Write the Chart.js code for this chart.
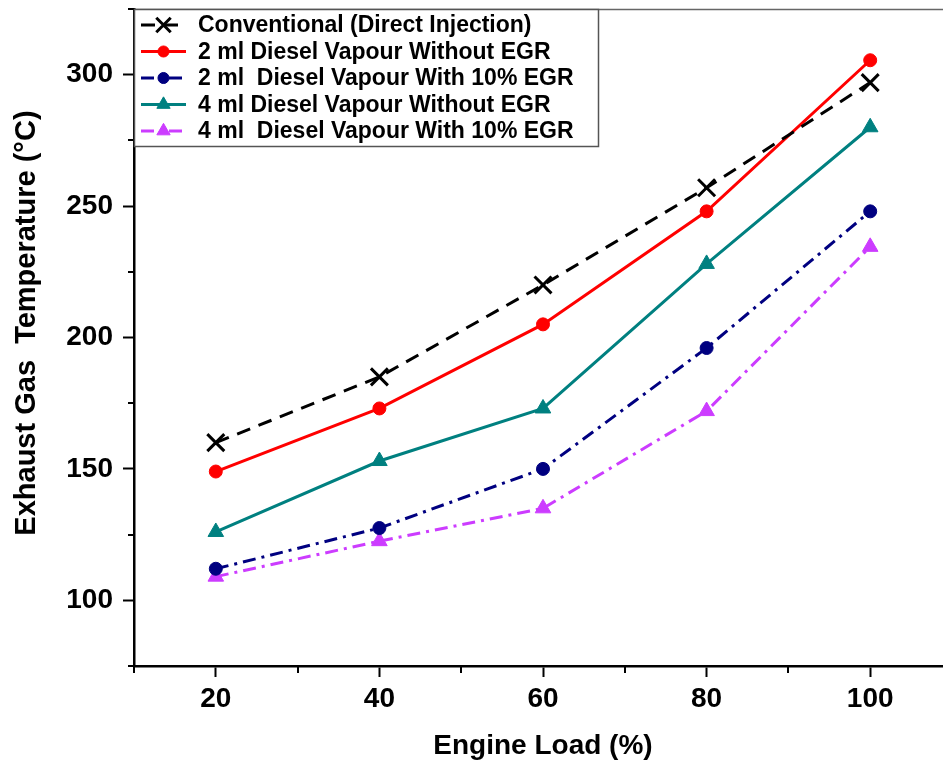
<!DOCTYPE html>
<html>
<head>
<meta charset="utf-8">
<script src="https://cdn.jsdelivr.net/npm/chart.js@4/dist/chart.umd.min.js"></script>
<style>
  html, body { margin: 0; padding: 0; background: #fff; overflow: hidden; width: 943px; height: 761px; }
  canvas { display: block; }
</style>
</head>
<body>
<canvas id="egt" width="960" height="761" style="width:960px;height:761px"></canvas>
<script>
// Engine load (%) and exhaust gas temperature (°C) for each fuelling mode
const engineLoad   = [20, 40, 60, 80, 100];
const conventional = [160, 185, 220, 257, 297];
const dv2NoEgr     = [149, 173, 205, 248, 305.5];
const dv2Egr10     = [112, 127.5, 150, 196, 248];
const dv4NoEgr     = [126, 153, 173, 228, 280];
const dv4Egr10     = [109, 122.5, 135, 172, 234.5];

const seriesNames = [
  'Conventional (Direct Injection)',
  '2 ml Diesel Vapour Without EGR',
  '2 ml  Diesel Vapour With 10% EGR',
  '4 ml Diesel Vapour Without EGR',
  '4 ml  Diesel Vapour With 10% EGR'
];

const yAxisTitle = 'Exhaust Gas  Temperature (°C)';
const xAxisTitle = 'Engine Load (%)';

const yMinorTicks = [75, 125, 175, 225, 275, 325];
const xMinorTicks = [10, 30, 50, 70, 90, 110];

const FONT = '"Liberation Sans", Arial, Helvetica, sans-serif';

const pts = (vals) => engineLoad.map((x, i) => ({ x, y: vals[i] }));

function series(label, vals, color, dash, style, radius, pbw) {
  return {
    label,
    data: pts(vals),
    borderColor: color,
    backgroundColor: color,
    borderWidth: 3,
    borderDash: dash,
    pointStyle: style,
    pointRadius: radius,
    pointHoverRadius: radius,
    pointBorderWidth: pbw,
    pointBackgroundColor: color,
    pointBorderColor: color,
    tension: 0,
    fill: false
  };
}

const datasets = [
  series(seriesNames[0], conventional, '#000000', [14, 9], 'crossRot', 12, 3),
  series(seriesNames[1], dv2NoEgr, '#ff0000', [], 'circle', 6.5, 1),
  series(seriesNames[2], dv2Egr10, '#000080', [13, 6, 3, 6], 'circle', 6.5, 1),
  series(seriesNames[3], dv4NoEgr, '#008080', [], 'triangle', 9, 1),
  series(seriesNames[4], dv4Egr10, '#cc3cff', [13, 6, 3, 6], 'triangle', 9, 1)
];

// Short minor tick marks, plot frame top line, y title and the boxed legend
const decorations = {
  id: 'decorations',
  afterDraw(chart) {
    const { ctx, chartArea, scales } = chart;
    const xs = scales.x, ys = scales.y;
    ctx.save();
    ctx.strokeStyle = '#000';
    ctx.lineWidth = 2;
    ctx.setLineDash([]);
    ctx.beginPath();
    yMinorTicks.forEach(v => {
      const py = Math.round(ys.getPixelForValue(v));
      ctx.moveTo(chartArea.left - 6, py);
      ctx.lineTo(chartArea.left, py);
    });
    xMinorTicks.forEach(v => {
      const px = Math.round(xs.getPixelForValue(v));
      ctx.moveTo(px, chartArea.bottom);
      ctx.lineTo(px, chartArea.bottom + 7);
    });
    ctx.stroke();

    // thin top frame
    ctx.strokeStyle = '#666';
    ctx.lineWidth = 1.5;
    ctx.beginPath();
    ctx.moveTo(chartArea.left, chartArea.top + 0.5);
    ctx.lineTo(chartArea.right, chartArea.top + 0.5);
    ctx.stroke();

    // rotated y-axis title
    ctx.save();
    ctx.translate(27, ys.getPixelForValue(205.5));
    ctx.rotate(-Math.PI / 2);
    ctx.fillStyle = '#000';
    ctx.font = 'bold 29px ' + FONT;
    ctx.textAlign = 'center';
    ctx.textBaseline = 'middle';
    ctx.fillText(yAxisTitle, 0, 0);
    ctx.restore();

    // legend
    const bx = chartArea.left, by = chartArea.top, bw = 464, bh = 137;
    ctx.fillStyle = '#fff';
    ctx.fillRect(bx + 1, by + 1, bw - 1, bh - 1);
    ctx.strokeStyle = '#555';
    ctx.lineWidth = 1.5;
    ctx.strokeRect(bx + 0.5, by + 0.5, bw, bh);

    chart.data.datasets.forEach((ds, i) => {
      const cy = by + 16 + i * 26.5;
      ctx.setLineDash(ds.borderDash);
      ctx.strokeStyle = ds.borderColor;
      ctx.lineWidth = ds.borderWidth;
      ctx.beginPath();
      ctx.moveTo(bx + 7, cy);
      ctx.lineTo(bx + 52, cy);
      ctx.stroke();
      ctx.setLineDash([]);
      ctx.fillStyle = ds.pointBackgroundColor;
      ctx.strokeStyle = ds.pointBorderColor;
      ctx.lineWidth = ds.pointBorderWidth;
      Chart.helpers.drawPoint(ctx, {
        pointStyle: ds.pointStyle,
        radius: ds.pointRadius * 0.85,
        rotation: 0,
        borderWidth: ds.pointBorderWidth
      }, bx + 29.5, cy);
      ctx.fillStyle = '#000';
      ctx.font = 'bold 23px ' + FONT;
      ctx.textBaseline = 'middle';
      ctx.textAlign = 'left';
      ctx.fillText(ds.label, bx + 64, cy + 1);
    });
    ctx.restore();
  }
};

new Chart(document.getElementById('egt'), {
  type: 'line',
  data: { datasets },
  plugins: [decorations],
  options: {
    responsive: false,
    animation: false,
    devicePixelRatio: 1,
    layout: { autoPadding: false, padding: { top: 9, right: 8, left: 0, bottom: 0 } },
    plugins: {
      legend: { display: false },
      tooltip: { enabled: false }
    },
    scales: {
      x: {
        type: 'linear',
        min: 10,
        max: 110,
        afterFit(scale) {
          scale.height = 95;
          scale.paddingLeft = 0;
          scale.paddingRight = 0;
        },
        border: { color: '#000', width: 2.5 },
        grid: {
          drawOnChartArea: false,
          tickLength: 11,
          tickWidth: 2,
          tickColor: (c) => (c.tick && c.tick.value % 20 === 0) ? '#000' : 'rgba(0,0,0,0)'
        },
        ticks: {
          stepSize: 10,
          autoSkip: false,
          maxRotation: 0,
          padding: 5,
          color: '#000',
          font: { family: FONT, weight: 'bold', size: 28 },
          callback: (v) => (v % 20 === 0 && v <= 100 ? v : '')
        },
        title: {
          display: true,
          text: xAxisTitle,
          color: '#000',
          font: { family: FONT, weight: 'bold', size: 28 },
          padding: { top: 0, bottom: -2 }
        }
      },
      y: {
        type: 'linear',
        min: 75,
        max: 325,
        afterFit(scale) {
          scale.width = 134;
          scale.paddingTop = 0;
          scale.paddingBottom = 0;
        },
        border: { color: '#000', width: 2.5 },
        grid: {
          drawOnChartArea: false,
          tickLength: 11,
          tickWidth: 2,
          tickColor: (c) => (c.tick && c.tick.value % 50 === 0) ? '#000' : 'rgba(0,0,0,0)'
        },
        ticks: {
          stepSize: 25,
          autoSkip: false,
          padding: 10,
          color: '#000',
          font: { family: FONT, weight: 'bold', size: 28 },
          callback: (v) => (v % 50 === 0 ? v : '')
        },
        title: { display: false }
      }
    }
  }
});
</script>
</body>
</html>
